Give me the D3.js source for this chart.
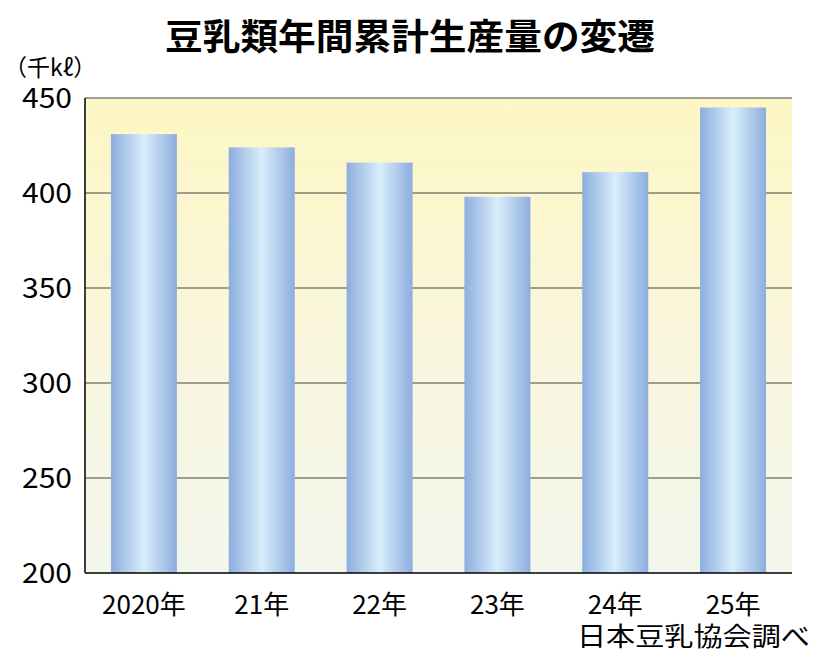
<!DOCTYPE html><html><head><meta charset="utf-8">
<script src="https://cdn.jsdelivr.net/npm/d3@7"></script>
<style>body{margin:0;background:#fff}svg{font-family:"Noto Sans CJK JP","Noto Sans",sans-serif}</style></head><body>
<svg id="c" width="820" height="668"></svg>
<script>
const categories=["2020年","21年","22年","23年","24年","25年"];
const values=[431,424,416,398,411,445];
const yTicks=[200,250,300,350,400,450];
const svg=d3.select("#c");
const L=85,R=792,T=98,B=573;
const x=d3.scaleBand().domain(categories).range([L,R]).paddingInner(0.44).paddingOuter(0.22);
const y=d3.scaleLinear().domain([200,450]).range([B,T]);
const defs=svg.append("defs");
const bg=defs.append("linearGradient").attr("id","bg").attr("x1",0).attr("y1",0).attr("x2",0).attr("y2",1);
bg.append("stop").attr("offset",0).attr("stop-color","#fdf7c4");
bg.append("stop").attr("offset",0.5).attr("stop-color","#f9f6dc");
bg.append("stop").attr("offset",1).attr("stop-color","#f3f6ec");
const bar=defs.append("linearGradient").attr("id","bar").attr("x1",0).attr("x2",1).attr("y1",0).attr("y2",0);
bar.append("stop").attr("offset",0).attr("stop-color","#8cadde");
bar.append("stop").attr("offset",0.5).attr("stop-color","#d9eefa");
bar.append("stop").attr("offset",1).attr("stop-color","#8cadde");
svg.append("rect").attr("x",L).attr("y",T).attr("width",R-L).attr("height",B-T).attr("fill","url(#bg)");
svg.append("g").selectAll("line").data(yTicks.slice(1)).join("line")
 .attr("x1",L).attr("x2",R).attr("y1",d=>y(d)).attr("y2",d=>y(d)).attr("stroke","#444").attr("stroke-width",1);
svg.append("g").selectAll("rect").data(values).join("rect")
 .attr("x",(d,i)=>x(categories[i])).attr("width",x.bandwidth())
 .attr("y",d=>y(d)).attr("height",d=>B-y(d)).attr("fill","url(#bar)");
svg.append("line").attr("x1",L).attr("x2",L).attr("y1",T).attr("y2",B).attr("stroke","#000").attr("stroke-width",1.5);
svg.append("line").attr("x1",L).attr("x2",R).attr("y1",B).attr("y2",B).attr("stroke","#000").attr("stroke-width",1.5);
svg.append("g").selectAll("text").data(yTicks).join("text")
 .attr("x",72).attr("y",d=>y(d)+10).attr("text-anchor","end").attr("font-size",28).attr("textLength",50).attr("lengthAdjust","spacingAndGlyphs").text(d=>d);
svg.append("g").selectAll("text").data(categories).join("text")
 .attr("x",d=>x(d)+x.bandwidth()/2).attr("y",614).attr("text-anchor","middle").attr("font-size",26).text(d=>d);
svg.append("text").attr("x",410).attr("y",50).attr("text-anchor","middle").attr("font-size",36).attr("font-weight","bold").attr("textLength",490).attr("lengthAdjust","spacingAndGlyphs").text("豆乳類年間累計生産量の変遷");
svg.append("text").attr("x",4).attr("y",76).attr("font-size",23).text("（千kℓ）");
svg.append("text").attr("x",810).attr("y",646).attr("text-anchor","end").attr("font-size",26).attr("textLength",233).attr("lengthAdjust","spacingAndGlyphs").text("日本豆乳協会調べ");
</script></body></html>
